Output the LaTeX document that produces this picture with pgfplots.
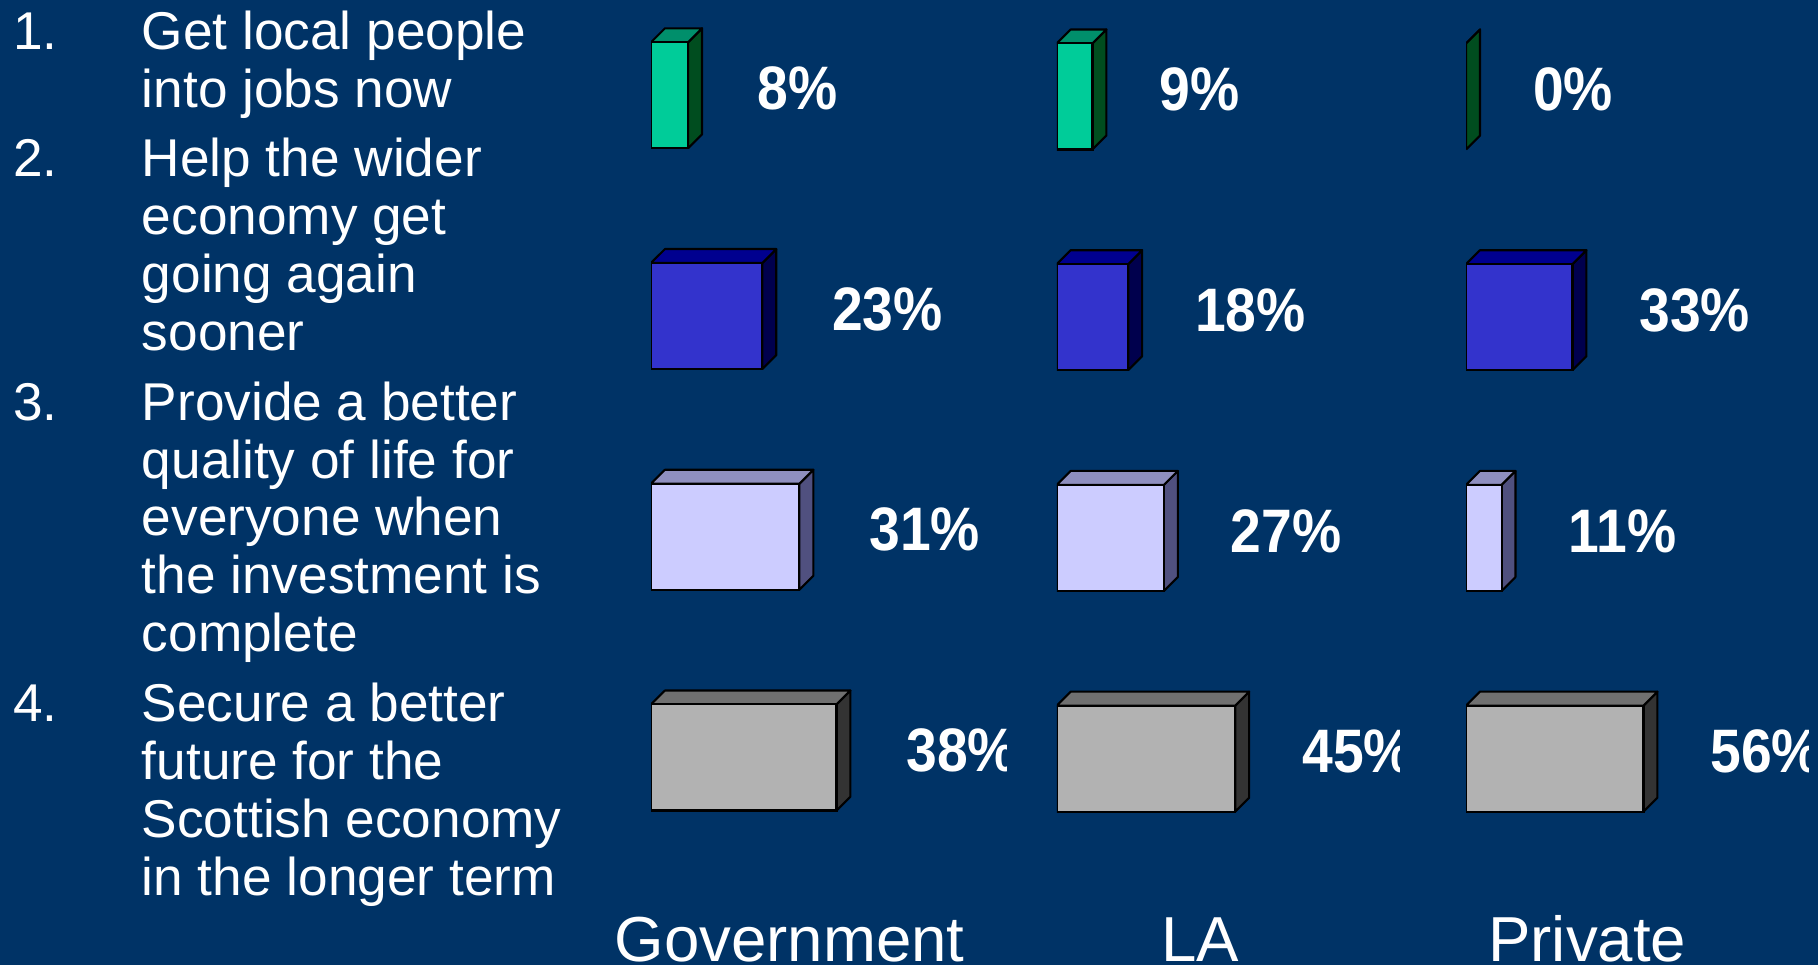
\documentclass[border=0pt]{standalone}
\usepackage{fontspec}
\setmainfont{Liberation Sans}
\newfontfamily\pctfont[FakeStretch=0.9]{Liberation Sans}
\usepackage{pgfplots}
\pgfplotsset{compat=1.18}

\definecolor{bg}{HTML}{003366}
\definecolor{greenF}{HTML}{00CC99}
\definecolor{greenT}{HTML}{008F6B}
\definecolor{greenS}{HTML}{004D1F}
\definecolor{blueF}{HTML}{3333CC}
\definecolor{blueT}{HTML}{00008F}
\definecolor{blueS}{HTML}{00004D}
\definecolor{lilacF}{HTML}{CCCCFF}
\definecolor{lilacT}{HTML}{8F8FBF}
\definecolor{lilacS}{HTML}{50507F}
\definecolor{greyF}{HTML}{B2B2B2}
\definecolor{greyT}{HTML}{707070}
\definecolor{greyS}{HTML}{333333}

% 1 unit = one pixel of the 1568 wide view
\def\u{0.5798pt}
\def\hh{0.2403}  % half bar height, in rows
\def\dy{0.063}   % depth, in rows

% row, value, colour name; \dx is the depth in value units of the current axis
\newcommand{\cuboid}[3]{%
  \pgfmathsetmacro\ya{#1-\hh}%
  \pgfmathsetmacro\yb{#1+\hh}%
  \pgfmathsetmacro\yc{#1-\hh+\dy}%
  \pgfmathsetmacro\yd{#1+\hh+\dy}%
  \pgfmathsetmacro\xd{#2+\dx}%
  \addplot[fill=#3S,draw=black,line width=1.05pt,line join=round] coordinates
    {(#2,\ya) (\xd,\yc) (\xd,\yd) (#2,\yb) (#2,\ya)};
  \addplot[fill=#3T,draw=black,line width=1.05pt,line join=round] coordinates
    {(0,\yb) (\dx,\yd) (\xd,\yd) (#2,\yb) (0,\yb)};
  \addplot[xbar,bar shift=0pt,bar width=0.4806,fill=#3F,draw=black,line width=1.05pt,
    point meta=x,
    nodes near coords={\pgfmathprintnumber[fixed,precision=0,assume math mode=true]{\pgfplotspointmeta}\%},
    nodes near coords style={anchor=west,xshift=\labx,yshift=3.5pt,inner sep=0pt,
      text=white,font=\pctfont\bfseries\fontsize{30.7}{32}\selectfont}]
    coordinates {(#2,#1)};
}

\pgfplotsset{
  panel/.style={hide axis,scale only axis,height=446.4pt,ymin=0.384,ymax=4.428,
    xmin=0,anchor=south west},
}

\begin{document}
\begin{tikzpicture}
\path[use as bounding box] (0,0) rectangle (1568*\u,832*\u);
\fill[bg] (0,0) rectangle (1568*\u,832*\u);
\clip (0,0) rectangle (1568*\u,832*\u);

% the value labels are cut off at the right end of each panel
\begin{scope}
\clip (550*\u,0) rectangle (868*\u,832*\u);
\begin{axis}[panel,at={(561.5*\u,61.4*\u)},width=178pt,xmax=73.8]
  \def\dx{2.885}
  \def\labx{34.4pt}
  \cuboid{4}{7.69}{green}
  \cuboid{3}{23.08}{blue}
  \cuboid{2}{30.77}{lilac}
  \cuboid{1}{38.46}{grey}
\end{axis}
\end{scope}

\begin{scope}
\clip (900*\u,0) rectangle (1207*\u,832*\u);
\begin{axis}[panel,at={(911.5*\u,60.4*\u)},width=171.6pt,xmax=87.4]
  \def\dx{3.54}
  \def\labx{33pt}
  \cuboid{4}{9.09}{green}
  \cuboid{3}{18.18}{blue}
  \cuboid{2}{27.27}{lilac}
  \cuboid{1}{45.45}{grey}
\end{axis}
\end{scope}

\begin{scope}
\clip (1250*\u,0) rectangle (1560*\u,832*\u);
\begin{axis}[panel,at={(1264.5*\u,60.4*\u)},width=171.6pt,xmax=107.5]
  \def\dx{4.357}
  \def\labx{33pt}
  \cuboid{4}{0}{green}
  \cuboid{3}{33.33}{blue}
  \cuboid{2}{11.11}{lilac}
  \cuboid{1}{55.56}{grey}
\end{axis}
\end{scope}

\foreach \cx/\name in {681/Government,1035/LA,1369/Private}
  \node[anchor=base,inner sep=0pt,text=white,font=\fontsize{31.8}{34}\selectfont]
    at (\cx*\u,3*\u) {\name};

\foreach \py/\num in {42.5/1.,152.5/2.,362.5/3.,622.5/4.}
  \node[anchor=base west,inner sep=0pt,text=white,font=\fontsize{26.6}{29}\selectfont]
    at (11*\u,{(832-\py)*\u}) {\num};

\foreach \py/\txt in {42.5/Get local people,92.5/into jobs now,152.5/Help the wider,
    202.5/economy get,252.5/going again,302/sooner,362.5/Provide a better,
    412.5/quality of life for,462/everyone when,512/the investment is,562/complete,
    622/Secure a better,672/future for the,722/Scottish economy,772/in the longer term}
  \node[anchor=base west,inner sep=0pt,text=white,font=\fontsize{26.6}{29}\selectfont]
    at (122*\u,{(832-\py)*\u}) {\txt};
\end{tikzpicture}
\end{document}
